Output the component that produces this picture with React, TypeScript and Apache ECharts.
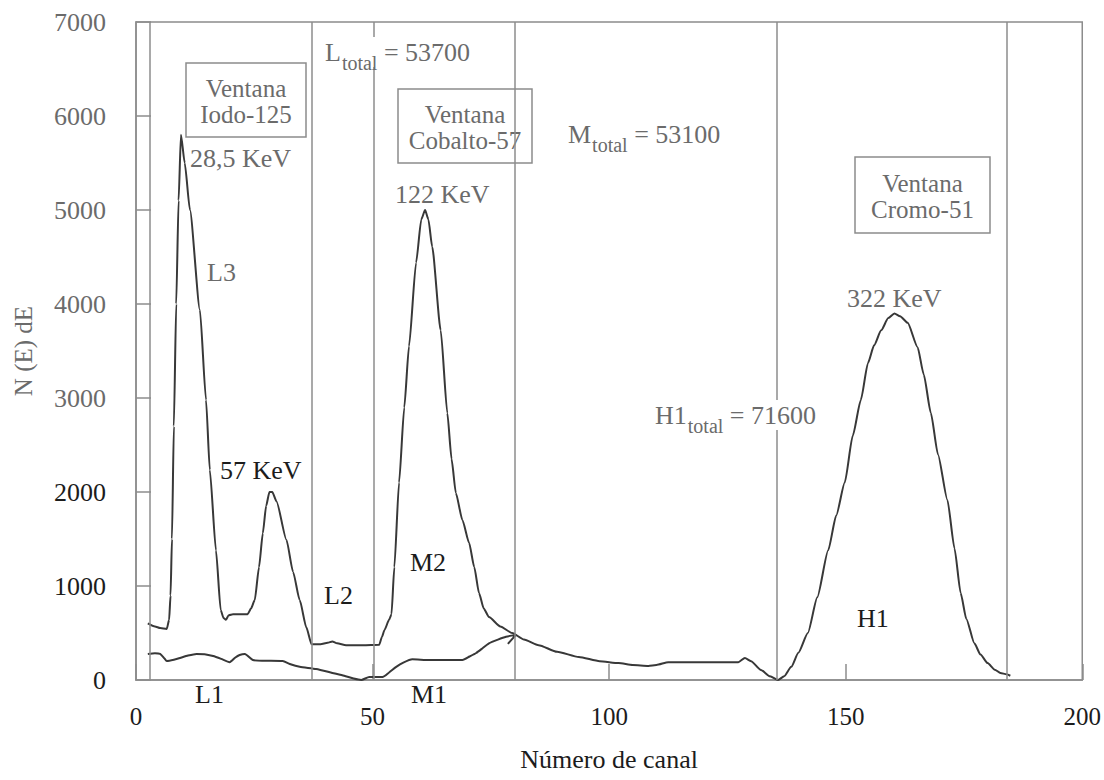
import React, { useEffect, useRef } from "react";
import * as echarts from "echarts";

const SERIF = "Liberation Serif";
const GREY_TEXT = "#6b6b6b";
const DARK_TEXT = "#1c1c1c";
const RULE = "#8c8c8c";
const TRACE = "#383838";

// Axis limits
const channelMin = 0;
const channelMax = 200;
const channelStep = 50;
const countMin = 0;
const countMax = 7000;
const countStep = 1000;

// Counts of the mixed-source spectrum, [channel, N(E) dE]
const mixtureSpectrum: [number, number][] = [
  [2.5, 603], [4, 570], [5.1, 553], [6.5, 543], [7.0, 640], [7.3, 900],
  [7.6, 1500], [8.0, 2700], [8.5, 4000], [9.0, 5100], [9.5, 5800],
  [10.3, 5500], [11.4, 5000], [13.5, 3940], [14.8, 2980], [15.6, 2235],
  [16.9, 1380], [17.9, 745], [18.5, 660], [19.0, 640], [19.6, 690],
  [20.5, 700], [23.6, 700], [24.3, 760], [25.1, 850], [26.0, 1200],
  [26.8, 1560], [27.5, 1850], [28.2, 2000], [28.8, 2000], [29.7, 1900],
  [31.8, 1490], [33.2, 1150], [34.6, 850], [36.0, 560], [37.1, 380],
  [39, 380], [40.5, 395], [41.5, 410], [42.5, 390], [44.4, 370], [48, 370],
  [51.4, 375], [52.0, 460], [52.5, 530], [53.5, 640], [54.0, 700],
  [54.6, 1200], [55.6, 2100], [56.7, 2900], [57.7, 3550], [59.2, 4440],
  [60.3, 4900], [61.1, 5000], [61.8, 4900], [62.6, 4610], [64.4, 3720],
  [65.8, 2840], [66.7, 2350], [67.6, 1990], [69, 1700], [70.4, 1460],
  [71.5, 1200], [72.5, 925], [73.5, 760], [74.6, 670], [77, 570],
  [79.5, 500], [82, 430], [85.1, 370], [89, 300], [93.6, 245], [98, 200],
  [102, 180], [105, 160], [108.3, 150], [110, 160], [112.5, 190],
  [120, 190], [127.3, 190], [128.7, 235], [130, 200], [132.1, 106],
  [134, 40], [135.7, 0], [137, 40], [138.5, 140], [140, 290], [142, 500],
  [144, 880], [146.3, 1380], [148, 1750], [149.8, 2100], [151.5, 2600],
  [153.2, 2980], [154.7, 3370], [156, 3560], [157.5, 3720], [159, 3850],
  [160.3, 3900], [161.5, 3870], [163.1, 3800], [165.2, 3540], [166.5, 3250],
  [168, 2840], [169.5, 2400], [171.5, 1915], [173, 1400], [174.3, 925],
  [175.5, 650], [177.2, 390], [178.5, 270], [180, 180], [181.5, 110],
  [182.7, 75], [184, 60], [184.8, 45],
];

// Lower trace, [channel, N(E) dE]
const lowerTrace: [number, number][] = [
  [2.5, 277], [4, 285], [5.1, 277], [6.0, 230], [6.5, 202], [8, 215],
  [9.3, 234], [11, 260], [12.8, 277], [14.5, 275], [16.3, 255], [18, 225],
  [19.8, 190], [21, 240], [21.9, 266], [23, 277], [24.7, 213], [27, 205],
  [31, 202], [32.5, 170], [34.6, 140], [38.1, 117], [41.5, 75], [44, 45],
  [46, 15], [47.6, 0], [49.3, 32], [52.1, 32], [53.5, 80], [55, 140],
  [56.5, 185], [58.4, 220], [62, 213], [69, 213], [70.5, 250], [71.9, 287],
  [73.3, 340], [74.6, 390], [76.5, 430], [78.2, 460], [80.3, 480],
  [78.6, 385],
];

// Channel limits of the energy windows
const windowEdges = [3, 37.2, 50.2, 80, 135.5, 184];

// Window captions, one text per line
const windowCaptions = [
  ["Ventana", "Iodo-125"],
  ["Ventana", "Cobalto-57"],
  ["Ventana", "Cromo-51"],
];

// Integrated totals
const totals = [
  { symbol: "L", value: "53700" },
  { symbol: "M", value: "53100" },
  { symbol: "H1", value: "71600" },
];

const axisTitleX = "Número de canal";
const axisTitleY = "N (E) dE";

function plainText(text: string, x: number, y: number, color: string, size: number, align = "left") {
  return {
    type: "text",
    x,
    y,
    style: {
      text,
      fill: color,
      fontSize: size,
      fontFamily: SERIF,
      align,
      verticalAlign: "middle",
    },
  };
}

function captionBox(x: number, y: number, w: number, h: number, lines: string[]) {
  return {
    type: "group",
    x,
    y,
    z: 100,
    children: [
      {
        type: "rect",
        shape: { x: 0, y: 0, width: w, height: h },
        style: { fill: "#ffffff", stroke: RULE, lineWidth: 1.5 },
      },
      plainText(lines[0], w / 2, h / 2 - 12, GREY_TEXT, 25, "center"),
      plainText(lines[1], w / 2, h / 2 + 14, GREY_TEXT, 25, "center"),
    ],
  };
}

function totalLabel(x: number, top: number, symbol: string, value: string) {
  return {
    type: "text",
    x: x - 4,
    y: top - 2,
    z: 100,
    style: {
      text: `{m|${symbol}}{s|total}{m| = ${value}}`,
      fill: GREY_TEXT,
      fontSize: 26,
      fontFamily: SERIF,
      backgroundColor: "#ffffff",
      padding: [2, 4, 2, 4],
      align: "left",
      verticalAlign: "top",
      rich: {
        m: { fontSize: 26, fontFamily: SERIF, lineHeight: 26, verticalAlign: "top", fill: GREY_TEXT },
        s: {
          fontSize: 20,
          fontFamily: SERIF,
          lineHeight: 20,
          verticalAlign: "top",
          padding: [14, 0, 0, 1],
          fill: GREY_TEXT,
        },
      },
    },
  };
}

function note(text: string, x: number, y: number, color: string) {
  return { ...plainText(text, x, y, color, 26), z: 100 };
}

export default function App() {
  const ref = useRef<HTMLDivElement>(null);

  useEffect(() => {
    if (!ref.current) return;
    const chart = echarts.init(ref.current, undefined, { renderer: "svg" });

    const option = {
      animation: false,
      grid: {
        left: 136,
        right: 17,
        top: 22,
        bottom: 100,
        show: true,
        borderColor: RULE,
        borderWidth: 1.5,
      },
      xAxis: {
        type: "value",
        min: channelMin,
        max: channelMax,
        interval: channelStep,
        name: axisTitleX,
        nameLocation: "middle",
        nameGap: 66,
        nameTextStyle: { color: DARK_TEXT, fontSize: 26, fontFamily: SERIF },
        axisLine: { show: true, lineStyle: { color: RULE, width: 1.5 } },
        axisTick: { show: true, inside: true, length: 16, lineStyle: { color: RULE, width: 1.5 } },
        axisLabel: {
          color: DARK_TEXT,
          fontSize: 25,
          fontFamily: SERIF,
          margin: 24,
          formatter: (v: number) => String(v),
        },
        splitLine: { show: false },
      },
      yAxis: {
        type: "value",
        min: countMin,
        max: countMax,
        interval: countStep,
        name: axisTitleY,
        nameLocation: "middle",
        nameGap: 100,
        nameTextStyle: { color: GREY_TEXT, fontSize: 25, fontFamily: SERIF },
        axisLine: { show: true, lineStyle: { color: RULE, width: 1.5 } },
        axisTick: { show: true, inside: true, length: 15, lineStyle: { color: RULE, width: 1.5 } },
        axisLabel: {
          fontSize: 26,
          fontFamily: SERIF,
          margin: 30,
          formatter: (v: number) => String(v),
          color: (value: any) => (Number(value) <= 2000 ? DARK_TEXT : GREY_TEXT),
        },
        splitLine: { show: false },
      },
      series: [
        {
          type: "line",
          data: mixtureSpectrum,
          showSymbol: false,
          smooth: 0.2,
          smoothMonotone: "x",
          lineStyle: { color: TRACE, width: 2 },
          markLine: {
            silent: true,
            symbol: "none",
            animation: false,
            label: { show: false },
            lineStyle: { color: RULE, width: 1.5, type: "solid" },
            data: windowEdges.map((v) => ({ xAxis: v })),
          },
          z: 3,
        },
        {
          type: "line",
          data: lowerTrace,
          showSymbol: false,
          smooth: 0.2,
          lineStyle: { color: TRACE, width: 2 },
          z: 3,
        },
      ],
      graphic: [
        captionBox(186, 63, 120, 74, windowCaptions[0]),
        captionBox(398, 89, 134, 74, windowCaptions[1]),
        captionBox(855, 157, 135, 76, windowCaptions[2]),
        totalLabel(325, 39, totals[0].symbol, totals[0].value),
        totalLabel(568, 121, totals[1].symbol, totals[1].value),
        totalLabel(655, 402, totals[2].symbol, totals[2].value),
        note("28,5 KeV", 190, 158, GREY_TEXT),
        note("122 KeV", 395, 194, GREY_TEXT),
        note("322 KeV", 847, 298, GREY_TEXT),
        note("L3", 207, 272, GREY_TEXT),
        note("57 KeV", 220, 470, DARK_TEXT),
        note("L2", 324, 595, DARK_TEXT),
        note("M2", 410, 562, DARK_TEXT),
        note("H1", 857, 618, DARK_TEXT),
        note("L1", 195, 694, DARK_TEXT),
        note("M1", 411, 694, DARK_TEXT),
      ],
    };

    chart.setOption(option as any);
    return () => chart.dispose();
  }, []);

  return <div ref={ref} style={{ position: "absolute", left: 0, top: 0, width: "1104px", height: "780px" }} />;
}
